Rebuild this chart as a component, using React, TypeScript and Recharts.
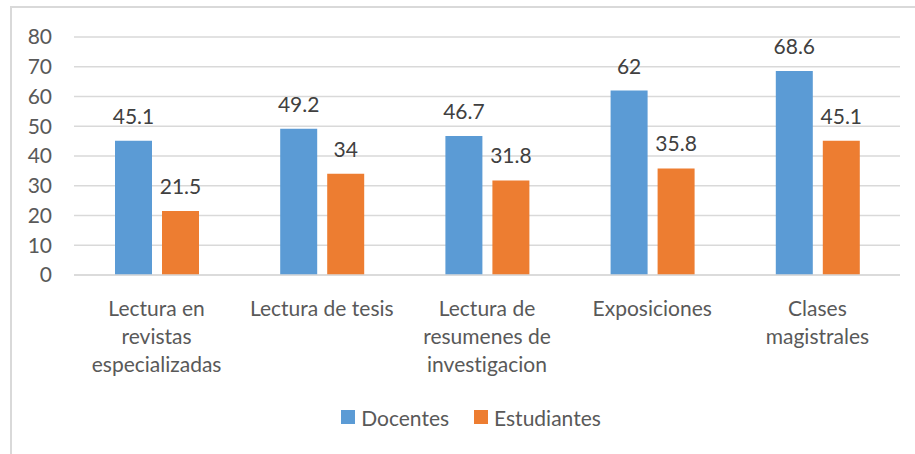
import React from 'react';
import { BarChart, Bar, XAxis, YAxis, CartesianGrid, LabelList, Legend } from 'recharts';

const categories = [
  'Lectura en\nrevistas\nespecializadas',
  'Lectura de tesis',
  'Lectura de\nresumenes de\ninvestigacion',
  'Exposiciones',
  'Clases\nmagistrales',
];
const docentes = [45.1, 49.2, 46.7, 62, 68.6];
const estudiantes = [21.5, 34, 31.8, 35.8, 45.1];
const yTicks = [0, 10, 20, 30, 40, 50, 60, 70, 80];

const data = categories.map((c, i) => ({ name: c, Docentes: docentes[i], Estudiantes: estudiantes[i] }));

const FONT = 'Lato, "Open Sans", sans-serif';
const FS = 21;

const CatTick = (props: any) => {
  const { x, y, payload } = props;
  const lines = String(payload.value).split('\n');
  return (
    <g>
      {lines.map((l: string, i: number) => (
        <text key={i} x={x} y={y + 32 + i * 28} textAnchor="middle" dominantBaseline="central"
          fill="#595959" fontSize={FS} fontFamily={FONT} style={{ fontVariantLigatures: 'none' }}>{l}</text>
      ))}
    </g>
  );
};

const LegendContent = (props: any) => {
  const { payload } = props;
  return (
    <div style={{ display: 'flex', justifyContent: 'center', alignItems: 'center', height: 30, fontFamily: FONT, fontSize: FS, color: '#595959', paddingLeft: 32 }}>
      {payload.map((p: any, i: number) => (
        <div key={i} style={{ display: 'flex', alignItems: 'center', marginLeft: i ? 25 : 0 }}>
          <span style={{ width: 14, height: 14, background: p.color, display: 'inline-block', marginRight: 6 }} />
          <span>{p.value}</span>
        </div>
      ))}
    </div>
  );
};

export default function App() {
  return (
    <div style={{ position: 'absolute', left: 0, top: 0, width: 915, height: 454, background: '#fff', overflow: 'hidden' }}>
      <div style={{ position: 'absolute', left: 10, top: 6, width: 940, height: 480, border: '2px solid #d9d9d9', boxSizing: 'border-box' }} />
      <div style={{ position: 'absolute', left: 0, top: 0 }}>
        <BarChart width={915} height={454} data={data} margin={{ top: 37, right: 15, left: 10, bottom: 22 }}
          barGap={10} barSize={37}>
          <CartesianGrid vertical={false} stroke="#d9d9d9" strokeWidth={1.5} />
          <XAxis dataKey="name" tick={<CatTick />} tickLine={false} axisLine={{ stroke: '#d9d9d9', strokeWidth: 1.5 }}
            height={127} interval={0} tickSize={0} tickMargin={0} />
          <YAxis domain={[0, 80]} ticks={yTicks} width={64} axisLine={false} tickLine={false} tickSize={0} tickMargin={22}
            tick={{ fill: '#595959', fontSize: FS, fontFamily: FONT }} interval={0} />
          <Legend verticalAlign="bottom" content={<LegendContent />} />
          <Bar dataKey="Docentes" fill="#5B9BD5" isAnimationActive={false}>
            <LabelList dataKey="Docentes" position="top" offset={17} fill="#404040" fontSize={FS} fontFamily={FONT} />
          </Bar>
          <Bar dataKey="Estudiantes" fill="#ED7D31" isAnimationActive={false}>
            <LabelList dataKey="Estudiantes" position="top" offset={17} fill="#404040" fontSize={FS} fontFamily={FONT} />
          </Bar>
        </BarChart>
      </div>
    </div>
  );
}
